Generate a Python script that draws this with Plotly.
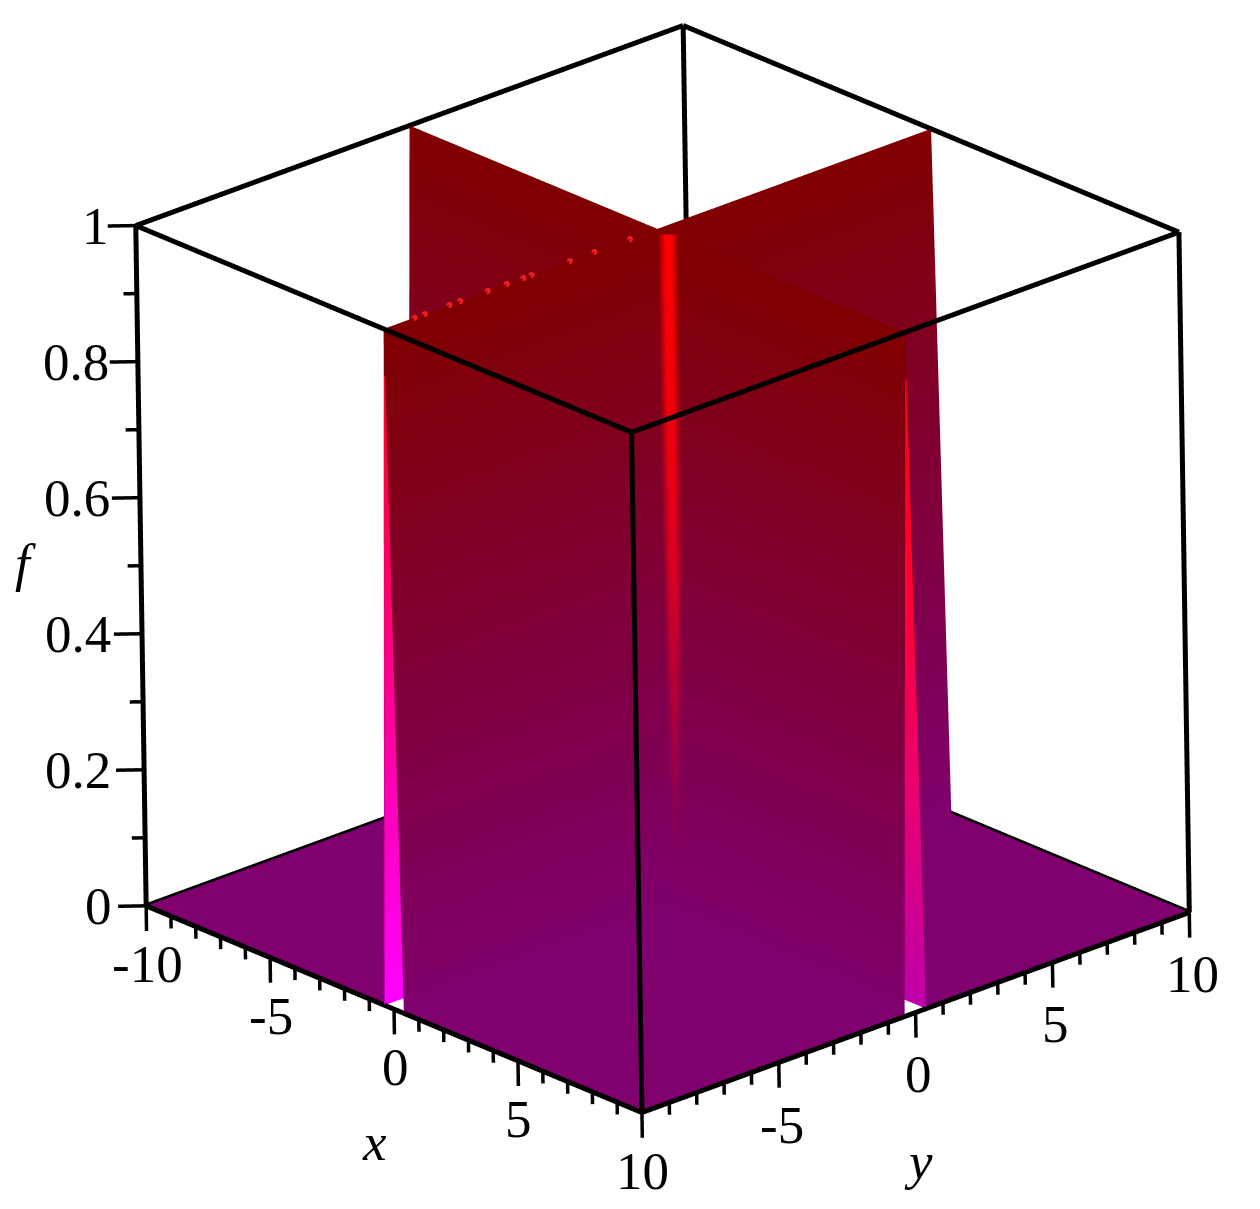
import plotly.graph_objects as go

# ---- data ----
grid = [-10, -0.4, 0, 0.4, 10]
z_surface = [
    [0, 0, 1, 0, 0],
    [0, 0, 1, 0, 0],
    [1, 1, 1, 1, 1],
    [0, 0, 1, 0, 0],
    [0, 0, 1, 0, 0],
]
# inner side of the far flank, seen through the open ends of the ridges
flank_pos = [0.385, 0.02]
flank_z = [0.0, 0.93]
left_flank_y = [-10, -0.6]
right_flank_x = [0.6, 10]
# bright crease where the two front walls meet
crease_z = [1, 0.75, 0.5, 0.3, 0.16, 0.04]
crease_depth = [0.2, 0.25, 0.3, 0.34, 0.368, 0.392]
crease_half = [0.2, 0.2, 0.19, 0.15, 0.1, 0.04]
crease_core = ["rgb(255,0,0)", "rgb(240,0,8)", "rgb(215,0,35)", "rgb(170,0,60)", "rgb(140,0,80)", "rgb(128,0,105)"]
crease_edge = ["rgb(128,0,0)", "rgb(128,0,28)", "rgb(128,0,55)", "rgb(128,0,77)", "rgb(128,0,92)", "rgb(128,0,105)"]
crease_cols = [-1, -0.3, 0, 0.3, 1]
# small red specks along the front ridge line
speck_y = [-8.87, -8.5, -7.6, -7.2, -6.2, -5.5, -4.9, -4.6, -3.2, -2.3, -1.0]

tick_xy = list(range(-10, 11))
label_x = [-10, -5, 0, 5, 10]
label_y = [-5, 0, 5, 10]
tick_z = [0, 0.1, 0.2, 0.3, 0.4, 0.5, 0.6, 0.7, 0.8, 0.9, 1]
label_z = {0: "0", 0.2: "0.2", 0.4: "0.4", 0.6: "0.6", 0.8: "0.8", 1: "1"}
x0, x1 = -10, 10
y0, y1 = -10, 10
z0, z1 = 0, 1

INK = "black"
SERIF = "Liberation Serif"
main_scale = [[0, "rgb(128,0,110)"], [1, "rgb(128,0,0)"]]
left_scale = [[0, "rgb(255,0,255)"], [1, "rgb(255,0,20)"]]
right_scale = [[0, "rgb(190,0,170)"], [0.33, "rgb(235,0,110)"], [0.66, "rgb(255,0,40)"], [1, "rgb(255,0,20)"]]
flat = dict(ambient=1, diffuse=0, specular=0, roughness=1, fresnel=0)

fig = go.Figure()
fig.add_trace(go.Surface(x=grid, y=grid, z=z_surface, surfacecolor=z_surface, colorscale=main_scale,
                         cmin=0, cmax=1, showscale=False, lighting=flat, hoverinfo="skip"))

lf = [[flank_z[0], flank_z[1]]] * 2
fig.add_trace(go.Surface(x=[-p for p in flank_pos], y=left_flank_y, z=lf, surfacecolor=lf,
                         colorscale=left_scale, cmin=0, cmax=1, showscale=False, lighting=flat, hoverinfo="skip"))
rf = [[flank_z[0]] * 2, [flank_z[1]] * 2]
fig.add_trace(go.Surface(x=right_flank_x, y=flank_pos, z=rf, surfacecolor=rf,
                         colorscale=right_scale, cmin=0, cmax=1, showscale=False, lighting=flat, hoverinfo="skip"))

# crease ribbon floating just in front of the two front walls
e, c, lift = 0.4, 0.24, 0.01
ncol = len(crease_cols)
mx, my, mz, mcol, mi, mj, mk = [], [], [], [], [], [], []
for n, (v, t, w, core, edge) in enumerate(zip(crease_z, crease_depth, crease_half, crease_core, crease_edge)):
    for f in crease_cols:
        mx.append(t + f * w + e + c)
        my.append(-t + f * w - e + c)
        mz.append(v + lift)
        mcol.append(edge if abs(f) == 1 else core)
    if n:
        a = ncol * (n - 1)
        b = ncol * n
        for s in range(ncol - 1):
            mi += [a + s, a + s + 1]
            mj += [a + s + 1, b + s + 1]
            mk += [b + s, b + s]
fig.add_trace(go.Mesh3d(x=mx, y=my, z=mz, i=mi, j=mj, k=mk, vertexcolor=mcol, lighting=flat, hoverinfo="skip"))

fig.add_trace(go.Scatter3d(x=[0.0] * len(speck_y), y=speck_y, z=[1.0] * len(speck_y), mode="markers",
                           marker=dict(size=3.5, color="rgb(240,30,30)"), hoverinfo="skip"))

# frame
edges = [((x0,y0,z1),(x1,y0,z1)),((x1,y0,z1),(x1,y1,z1)),((x1,y1,z1),(x0,y1,z1)),((x0,y1,z1),(x0,y0,z1)),
         ((x0,y0,z0),(x0,y0,z1)),((x1,y0,z0),(x1,y0,z1)),((x1,y1,z0),(x1,y1,z1)),((x0,y1,z0),(x0,y1,z1)),
         ((x0,y0,z0),(x1,y0,z0)),((x1,y0,z0),(x1,y1,z0)),((x0,y0,z0),(x0,y1,z0)),((x0,y1,z0),(x1,y1,z0))]
ex, ey, ez = [], [], []
for p, q in edges:
    ex += [p[0], q[0], None]; ey += [p[1], q[1], None]; ez += [p[2], q[2], None]
fig.add_trace(go.Scatter3d(x=ex, y=ey, z=ez, mode="lines", line=dict(color=INK, width=10),
                           hoverinfo="skip", showlegend=False))

# tick marks (the scene's own ticks cannot differ in length or be thick)
tx, ty, tz = [], [], []
for v in tick_xy:
    d = 0.037 if v % 5 == 0 else 0.018
    tx += [v, v, None]; ty += [y0, y0, None]; tz += [z0, z0 - d, None]
    tx += [x1, x1, None]; ty += [v, v, None]; tz += [z0, z0 - d, None]
for i, v in enumerate(tick_z):
    d = 0.76 if i % 2 == 0 else 0.36
    tx += [x0, x0 - 0.667 * d, None]; ty += [y0, y0 - 0.745 * d, None]; tz += [v, v, None]
fig.add_trace(go.Scatter3d(x=tx, y=ty, z=tz, mode="lines", line=dict(color=INK, width=7),
                           hoverinfo="skip", showlegend=False))

# labels
annots = []
tf = dict(family=SERIF, size=53, color=INK)
for v in label_x:
    annots.append(dict(x=v, y=y0, z=z0, text=str(v), showarrow=False, font=tf, yshift=-58, xshift=1))
for v in label_y:
    annots.append(dict(x=x1, y=v, z=z0, text=str(v), showarrow=False, font=tf, yshift=-62, xshift=3))
for v, s in label_z.items():
    annots.append(dict(x=x0, y=y0, z=v, text=s, showarrow=False, font=tf, xanchor="right", xshift=-32 + 7 * v))
annots.append(dict(x=-0.77, y=y0, z=z0, text="<i>x</i>", showarrow=False, font=tf, yshift=-141))
annots.append(dict(x=x1, y=0.1, z=z0, text="<i>y</i>", showarrow=False, font=tf, yshift=-150))
annots.append(dict(x=x0, y=y0, z=0.5, text="<i>f</i>", showarrow=False, font=tf, xshift=-115, yshift=3))

hidden = dict(visible=False)
fig.update_layout(
    width=1260, height=1209, margin=dict(l=0, r=0, t=0, b=0), paper_bgcolor="white", showlegend=False,
    scene=dict(
        xaxis=dict(hidden, range=[-11, 11]),
        yaxis=dict(hidden, range=[-11, 11]),
        zaxis=dict(hidden, range=[-0.05, 1.05]),
        aspectmode="manual", aspectratio=dict(x=1.344, y=1.344, z=1.344),
        dragmode="orbit",
        annotations=annots,
        camera=dict(projection=dict(type="orthographic"),
                    eye=dict(x=1.3523, y=-1.2838, z=0.7247),
                    center=dict(x=-0.0197, y=-0.0558, z=-0.0533),
                    up=dict(x=0.0094, y=0.0104, z=1)),
    ),
)
fig.write_html("out.html", config=dict(displayModeBar=False), post_script="document.body.style.margin='0';")
